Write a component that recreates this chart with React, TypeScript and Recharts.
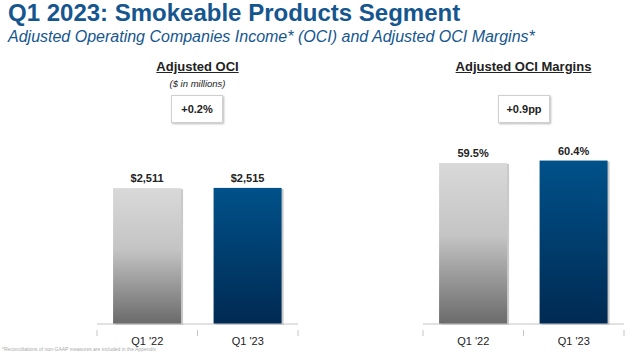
import { BarChart, Bar, XAxis, YAxis, LabelList } from 'recharts'

const periods = ["Q1 '22", "Q1 '23"]
const ociValues = [2511, 2515]
const marginValues = [59.5, 60.4]
const ociChange = '+0.2%'
const marginChange = '+0.9pp'

const ociData = periods.map((p, i) => ({ period: p, value: ociValues[i] }))
const marginData = periods.map((p, i) => ({ period: p, value: marginValues[i] }))

const FONT = 'Arial, "Liberation Sans", sans-serif'
const BLUE = '#15568f'
const AXIS = '#c4c4c4'

function ShadedBar(props: any) {
  const { x, y, width, height, index } = props
  const fill = index === 0 ? 'url(#gradGrey)' : 'url(#gradBlue)'
  return (
    <g>
      <rect x={x + 2} y={y + 1} width={width} height={height} fill="#c9c9c9" />
      <rect x={x} y={y} width={width} height={height} fill={fill} />
    </g>
  )
}

// category label plus the small separator marks at both band edges
function PeriodTick(props: any) {
  const { x, y, payload } = props
  const half = payload.offset || 50
  return (
    <g>
      <line x1={x - half} y1={y - 5} x2={x - half} y2={y + 1} stroke={AXIS} />
      <line x1={x + half} y1={y - 5} x2={x + half} y2={y + 1} stroke={AXIS} />
      <text x={x} y={y + 10} textAnchor="middle" fontSize={11} fill="#222" fontFamily={FONT}>
        {payload.value}
      </text>
    </g>
  )
}

function Gradients() {
  return (
    <defs>
      <linearGradient id="gradGrey" x1="0" y1="0" x2="0" y2="1">
        <stop offset="0%" stopColor="#d9d9d9" />
        <stop offset="45%" stopColor="#c4c4c4" />
        <stop offset="100%" stopColor="#6a6a6a" />
      </linearGradient>
      <linearGradient id="gradBlue" x1="0" y1="0" x2="0" y2="1">
        <stop offset="0%" stopColor="#00518a" />
        <stop offset="100%" stopColor="#002a52" />
      </linearGradient>
    </defs>
  )
}

function SegmentChart({ data, max, fmt }: { data: any[]; max: number; fmt: (v: number) => string }) {
  return (
    <BarChart width={203} height={212} data={data} margin={{ top: 0, right: 1, left: 1, bottom: 0 }} barCategoryGap="16%">
      <Gradients />
      <XAxis
        dataKey="period"
        axisLine={{ stroke: AXIS }}
        tickLine={false}
        height={28}
        tick={<PeriodTick />}
        tickMargin={5}
      />
      <YAxis hide domain={[0, max]} />
      <Bar dataKey="value" shape={<ShadedBar />} isAnimationActive={false}>
        <LabelList
          dataKey="value"
          position="top"
          offset={6}
          formatter={(v: any) => fmt(Number(v))}
          style={{ fontSize: 11, fontWeight: 700, fill: '#222', fontFamily: FONT }}
        />
      </Bar>
    </BarChart>
  )
}

function ChangeBox({ left, text }: { left: number; text: string }) {
  return (
    <div
      style={{
        position: 'absolute', left, top: 95, width: 52, height: 28, boxSizing: 'border-box',
        border: '1px solid #d0d0d0', boxShadow: '1px 1px 2px #bbb', background: '#fff',
        display: 'flex', alignItems: 'center', justifyContent: 'center',
        fontSize: 11, fontWeight: 700, color: '#222',
      }}
    >
      {text}
    </div>
  )
}

export default function App() {
  return (
    <div style={{ position: 'absolute', left: 0, top: 0, width: 640, height: 352, overflow: 'hidden', background: '#fff', fontFamily: FONT }}>
      <div style={{ position: 'absolute', left: 8, top: -1, fontSize: 24, fontWeight: 700, color: BLUE, whiteSpace: 'nowrap' }}>
        Q1 2023: Smokeable Products Segment
      </div>
      <div style={{ position: 'absolute', left: 8, top: 28, fontSize: 16, fontStyle: 'italic', color: BLUE, whiteSpace: 'nowrap' }}>
        Adjusted Operating Companies Income* (OCI) and Adjusted OCI Margins*
      </div>

      <div style={{ position: 'absolute', left: 97, width: 201, top: 59, textAlign: 'center', fontSize: 13, fontWeight: 700, textDecoration: 'underline', color: '#222' }}>
        Adjusted OCI
      </div>
      <div style={{ position: 'absolute', left: 97, width: 201, top: 78, textAlign: 'center', fontSize: 9.5, fontStyle: 'italic', color: '#222' }}>
        ($ in millions)
      </div>
      <ChangeBox left={171} text={ociChange} />

      <div style={{ position: 'absolute', left: 423, width: 201, top: 59, textAlign: 'center', fontSize: 13, fontWeight: 700, textDecoration: 'underline', color: '#222' }}>
        Adjusted OCI Margins
      </div>
      <ChangeBox left={498} text={marginChange} />

      <div style={{ position: 'absolute', left: 96, top: 140 }}>
        <SegmentChart data={ociData} max={3400} fmt={(v) => '$' + v.toLocaleString('en-US')} />
      </div>
      <div style={{ position: 'absolute', left: 422, top: 140 }}>
        <SegmentChart data={marginData} max={68} fmt={(v) => v.toFixed(1) + '%'} />
      </div>

      <div style={{ position: 'absolute', left: 2, top: 347, fontSize: 5, lineHeight: '5px', color: '#aaa', whiteSpace: 'nowrap' }}>
        *Reconciliations of non-GAAP measures are included in the Appendix
      </div>
    </div>
  )
}
